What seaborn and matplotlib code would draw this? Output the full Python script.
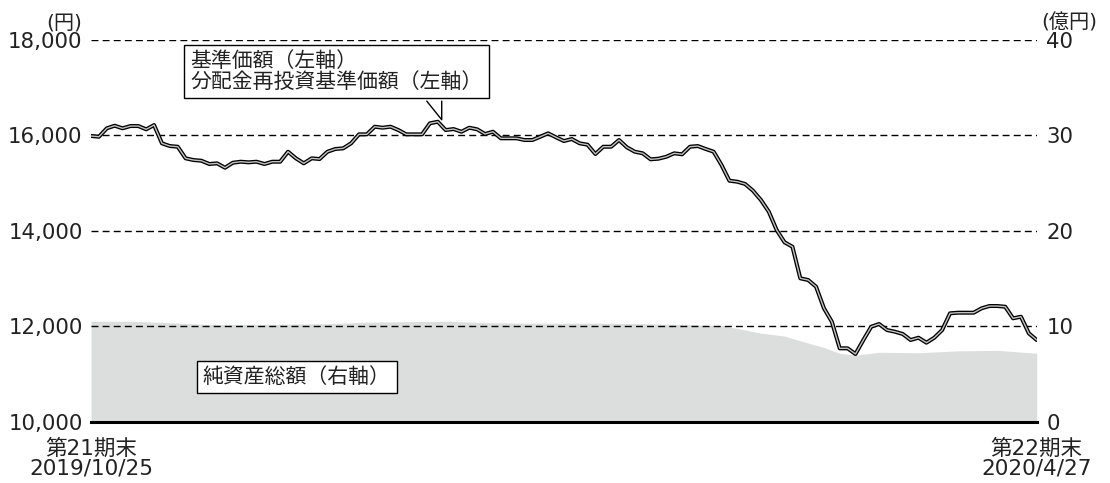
import numpy as np
import pandas as pd
import matplotlib.pyplot as plt
import seaborn as sns
from matplotlib.lines import Line2D

sns.set_style("white")
plt.rcParams['font.family'] = ['DejaVu Sans', 'Noto Sans CJK JP']

# 基準価額 (円), business-day series from 第21期末 to 第22期末
nav = [15990, 15974, 16150, 16205, 16150, 16198, 16198, 16129, 16219, 15836,
       15779, 15765, 15522, 15486, 15472, 15403, 15417, 15325, 15430, 15451,
       15438, 15451, 15403, 15451, 15451, 15660, 15522, 15417, 15522, 15507,
       15660, 15717, 15731, 15836, 16024, 16024, 16184, 16163, 16184, 16114,
       16024, 16024, 16024, 16255, 16288, 16114, 16135, 16079, 16163, 16129,
       16031, 16079, 15941, 15941, 15941, 15905, 15905, 15974, 16045, 15962,
       15884, 15926, 15836, 15807, 15612, 15765, 15765, 15905, 15752, 15660,
       15627, 15501, 15514, 15555, 15627, 15606, 15765, 15779, 15717, 15660,
       15382, 15053, 15032, 14984, 14843, 14649, 14404, 14020, 13763, 13671,
       13009, 12973, 12833, 12381, 12100, 11543, 11543, 11424, 11717, 11996,
       12052, 11926, 11891, 11843, 11717, 11765, 11661, 11765, 11926, 12276,
       12289, 12289, 12289, 12381, 12429, 12429, 12414, 12171, 12205, 11857,
       11717]
nav_reinv = list(nav)  # 分配金再投資基準価額 (no distributions -> same)

# 純資産総額 (億円)
na_day = [0, 5, 10, 15, 20, 25, 30, 35, 40, 45, 50, 55, 60, 65, 70, 75, 80,
          82, 85, 88, 90, 93, 95, 97, 100, 105, 110, 115, 120]
na_val = [10.55, 10.55, 10.4, 10.2, 10.2, 10.25, 10.3, 10.45, 10.5, 10.55,
          10.4, 10.35, 10.35, 10.35, 10.3, 10.2, 10.1, 9.8, 9.3, 9.0, 8.5,
          7.8, 7.2, 7.0, 7.3, 7.25, 7.45, 7.5, 7.2]

xlabels = ['第21期末\n2019/10/25', '第22期末\n2020/4/27']

df = pd.DataFrame({'day': np.arange(len(nav)), 'nav': nav, 'reinv': nav_reinv})
na = pd.DataFrame({'day': na_day, 'val': na_val})
last = len(nav) - 1

fig = plt.figure(figsize=(11.1, 4.83), dpi=100)
ax = fig.add_axes([0.082, 0.1263, 0.852, 0.7909])
ax2 = ax.twinx()

# net assets area on right axis, drawn behind
ax2.fill_between(na['day'], 0, na['val'], color='#dcdddd', lw=0, zorder=1)
ax2.set_ylim(0, 40)
ax2.set_yticks([0, 10, 20, 30, 40])
ax2.set_zorder(1)
ax.set_zorder(2)
ax.patch.set_visible(False)

for v in [12000, 14000, 16000, 18000]:
    ax.axhline(v, color='black', lw=1, dashes=(5, 3), zorder=2)

sns.lineplot(data=df, x='day', y='nav', ax=ax, color='black', lw=2.9, zorder=3)
sns.lineplot(data=df, x='day', y='reinv', ax=ax, color='#c4c4c4', lw=1.0, zorder=4)

ax.set_xlim(0, last)
ax.set_ylim(10000, 18000)
ax.set_yticks([10000, 12000, 14000, 16000, 18000])
ax.set_yticklabels([f'{v:,}' for v in [10000, 12000, 14000, 16000, 18000]])
ax.set_xticks([0, last])
ax.set_xticklabels(xlabels, linespacing=0.95)
ax.set_xlabel('')
ax.set_ylabel('')

for s in ['top', 'left', 'right']:
    ax.spines[s].set_visible(False)
    ax2.spines[s].set_visible(False)
ax2.spines['bottom'].set_visible(False)
ax.spines['bottom'].set_linewidth(2.2)
ax.spines['bottom'].set_color('black')

ax.tick_params(axis='y', length=0, pad=6, labelsize=15.3, colors='#222222')
ax2.tick_params(axis='y', length=0, pad=7, labelsize=15.3, colors='#222222')
ax.tick_params(axis='x', direction='in', length=5, width=2, pad=12,
               labelsize=15.5, colors='black', labelcolor='#222222')

ax.text(-0.0095, 1.02, '(円)', transform=ax.transAxes, ha='right', va='bottom',
        fontsize=14.5, color='#222222')
ax.text(1.005, 1.02, '(億円)', transform=ax.transAxes, ha='left', va='bottom',
        fontsize=14.5, color='#222222')

# legend callouts
ax.text(12.6, 17340, '基準価額（左軸）\n分配金再投資基準価額（左軸）', ha='left', va='center',
        fontsize=15, linespacing=1.05, color='#222222', zorder=6,
        bbox=dict(boxstyle='square,pad=0.3', fc='white', ec='black', lw=1))
ax.add_line(Line2D([42.6, 44.5, 44.5], [16720, 16330, 16720], color='black',
                   lw=1, zorder=5))
ax.text(14.2, 10942, '純資産総額（右軸）', ha='left', va='center', fontsize=15,
        color='#222222', zorder=6,
        bbox=dict(boxstyle='square,pad=0.3', fc='white', ec='black', lw=1))

fig.patch.set_facecolor('white')
fig.savefig('out.png', dpi=100)
